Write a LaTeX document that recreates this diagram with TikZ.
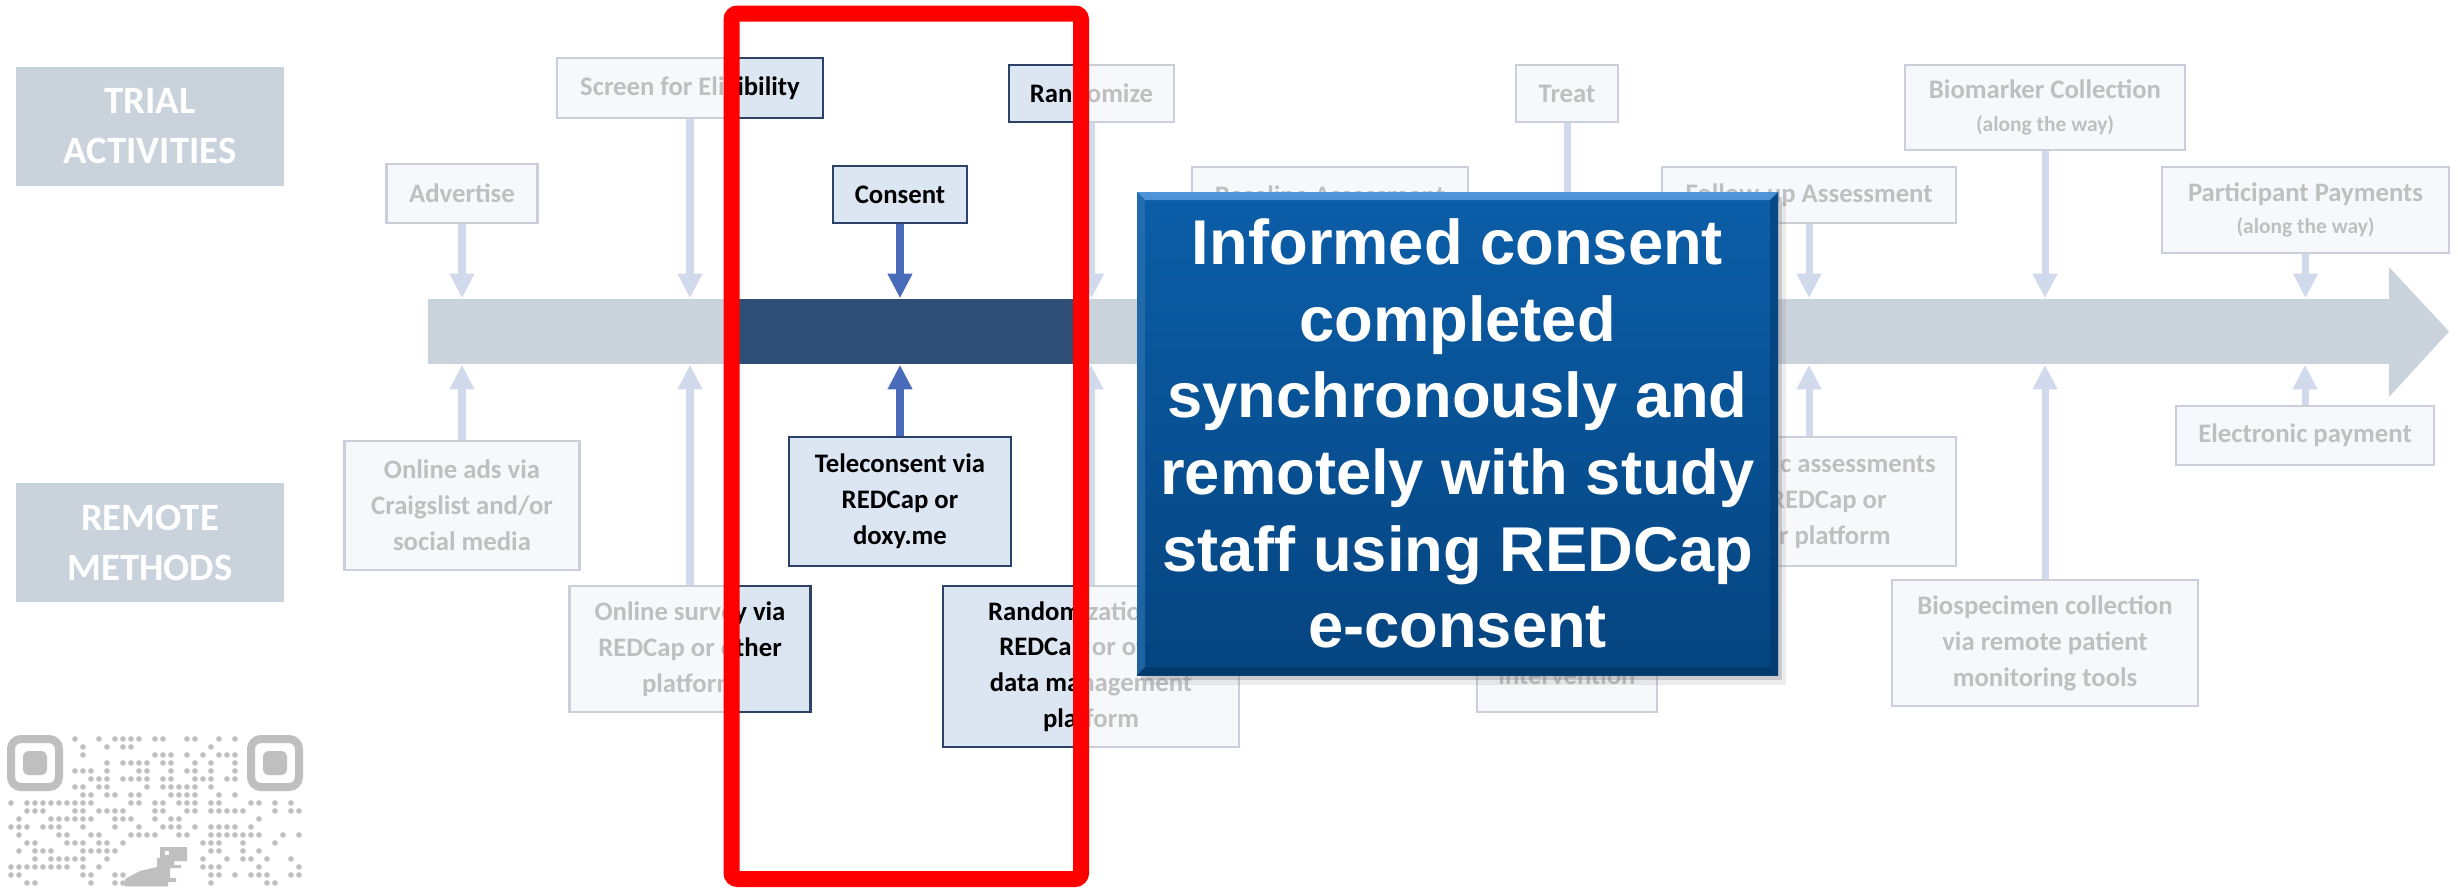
\documentclass[tikz,border=0pt]{standalone}
\usepackage{fontspec}
\setmainfont{Carlito}
\newfontfamily\calloutfont{Liberation Sans}
\usetikzlibrary{arrows.meta,shadows}
\newdimen\pxu \pxu=0.01cm
\definecolor{bandblue}{RGB}{46,78,118}
\definecolor{boxline}{RGB}{44,66,104}
\definecolor{boxfill}{RGB}{220,230,242}
\definecolor{arrowblue}{RGB}{72,108,186}
\definecolor{callouttop}{RGB}{11,94,168}
\definecolor{calloutbot}{RGB}{5,68,128}
\definecolor{bevellight}{RGB}{78,148,215}
\definecolor{framered}{RGB}{255,0,0}

\begin{document}
\begin{tikzpicture}[x=0.01cm, y=-0.01cm,
    tbox/.style={draw=boxline, fill=boxfill, line width=0.8pt, align=center, inner sep=0pt,
      font=\bfseries\fontsize{7.6}{10.2}\selectfont},
    labelbox/.style={fill=bandblue, text=white, align=center, inner sep=0pt,
      minimum width=268\pxu, minimum height=119\pxu, font=\bfseries\fontsize{11}{14.2}\selectfont},
    conn/.style={draw=arrowblue, line width=2pt, -{Triangle[width=6.6pt,length=7pt]}},
    callout/.style={top color=callouttop, bottom color=calloutbot, text=white, align=center,
      inner sep=0pt, font=\calloutfont\bfseries\fontsize{18}{21.8}\selectfont,
      drop shadow={shadow xshift=4\pxu, shadow yshift=-5\pxu, opacity=.3},
      drop shadow={shadow xshift=8\pxu, shadow yshift=-10\pxu, opacity=.15},
      path picture={
        \shade[top color=bevellight, bottom color=callouttop]
          (path picture bounding box.north west) -- (path picture bounding box.north east)
          -- ([shift={(-8\pxu,-8\pxu)}]path picture bounding box.north east)
          -- ([shift={(8\pxu,-8\pxu)}]path picture bounding box.north west) -- cycle;
        \fill[callouttop!85!white, opacity=.6]
          (path picture bounding box.north west) -- ([shift={(8\pxu,-8\pxu)}]path picture bounding box.north west)
          -- ([shift={(8\pxu,8\pxu)}]path picture bounding box.south west) -- (path picture bounding box.south west) -- cycle;
        \fill[calloutbot!80!black, opacity=.5]
          (path picture bounding box.north east) -- ([shift={(-8\pxu,-8\pxu)}]path picture bounding box.north east)
          -- ([shift={(-8\pxu,8\pxu)}]path picture bounding box.south east) -- (path picture bounding box.south east) -- cycle;
        \fill[calloutbot!70!black, opacity=.5]
          (path picture bounding box.south west) -- ([shift={(8\pxu,8\pxu)}]path picture bounding box.south west)
          -- ([shift={(-8\pxu,8\pxu)}]path picture bounding box.south east) -- (path picture bounding box.south east) -- cycle;
      }}
  ]
  \fill[white] (0,0) rectangle (2458,886);

  % row labels
  \node[labelbox] (trial) at (150,126.5) {TRIAL\\ACTIVITIES};
  \node[labelbox] (remote) at (150,542.5) {REMOTE\\METHODS};

  % qr code
  \begin{scope}[black]
    \foreach \qx in {7,247} {
      \draw[line width=8\pxu, rounded corners=10\pxu] (\qx+4,739) rectangle (\qx+52,787);
      \fill[rounded corners=6\pxu] (\qx+16,751) rectangle (\qx+40,775);
    }
    \pgfmathsetseed{2718}
    \foreach \i in {0,...,36} {
      \foreach \j in {0,...,18} {
        \pgfmathsetmacro\qrdot{rnd}
        \pgfmathtruncatemacro\qrshow{(\qrdot<0.45)*(1-(\i<8)*(\j<8))*(1-(\i>28)*(\j<8))*(1-(\i>14)*(\i<24)*(\j>12))}
        \ifnum\qrshow=1 \fill (11+8*\i,739+8*\j) circle[radius=2.8\pxu]; \fi
      }
    }
    \fill (160,847) -- (187,847) -- (187,861) -- (174,861) -- (174,865) -- (181,865) -- (181,868)
      -- (170,868) -- (170,878) -- (176,878) -- (176,882) -- (168,882) -- (168,886) -- (125,886)
      -- (125,879) -- (140,871) -- (157,867) -- (157,858) -- (160,858) -- cycle;
    \fill[white] (165,851) rectangle (169,855);
  \end{scope}

  % timeline
  \node[fill=bandblue, inner sep=0pt, minimum width=1962\pxu, minimum height=65\pxu] (band) at (1409,331.5) {};
  \fill[bandblue] (2389,267) -- (2449,331.5) -- (2389,397) -- cycle;

  % trial activities
  \node[tbox, minimum width=151\pxu, minimum height=59\pxu] (advertise) at (462,193.5) {Advertise};
  \node[tbox, minimum width=266\pxu, minimum height=60\pxu] (screen) at (690,88) {Screen for Eligibility};
  \node[tbox, minimum width=134\pxu, minimum height=57\pxu] (consent) at (900,194.5) {Consent};
  \node[tbox, minimum width=165\pxu, minimum height=57\pxu] (randomize) at (1091.5,93.5) {Randomize};
  \node[tbox, minimum width=276\pxu, minimum height=56\pxu] (baseline) at (1330,195) {Baseline Assessment};
  \node[tbox, minimum width=102\pxu, minimum height=57\pxu] (treat) at (1567,93.5) {Treat};
  \node[tbox, minimum width=294\pxu, minimum height=56\pxu] (followup) at (1809,195) {Follow-up Assessment};
  \node[tbox, minimum width=280\pxu, minimum height=85\pxu] (biomarker) at (2045,107.5)
    {Biomarker Collection\\[-1pt]{\fontsize{6.1}{8}\selectfont (along the way)}};
  \node[tbox, minimum width=287\pxu, minimum height=86\pxu] (payments) at (2305.5,210)
    {Participant Payments\\[-1pt]{\fontsize{6.1}{8}\selectfont (along the way)}};

  % remote methods
  \node[tbox, minimum width=235\pxu, minimum height=129\pxu] (onlineads) at (462,505.5) {Online ads via\\Craigslist and/or\\social media};
  \node[tbox, minimum width=241\pxu, minimum height=126\pxu] (survey) at (690,649) {Online survey via\\REDCap or other\\platform};
  \node[tbox, minimum width=222\pxu, minimum height=129\pxu] (teleconsent) at (900,501.5) {Teleconsent via\\REDCap or\\doxy.me};
  \node[tbox, minimum width=296\pxu, minimum height=161\pxu] (randomization) at (1091,666.5)
    {Randomization via\\REDCap or other\\data management\\platform};
  \node[tbox, minimum width=180\pxu, minimum height=126\pxu] (intervention) at (1567,649) {\mbox{}\\\mbox{}\\intervention};
  \node[tbox, minimum width=294\pxu, minimum height=129\pxu] (eassess) at (1809,501.5) {Electronic assessments\\via REDCap or\\other platform};
  \node[tbox, minimum width=306\pxu, minimum height=126\pxu] (biospecimen) at (2045,643) {Biospecimen collection\\via remote patient\\monitoring tools};
  \node[tbox, minimum width=258\pxu, minimum height=59\pxu] (epayment) at (2305,435.5) {Electronic payment};

  % arrows into the timeline
  \foreach \n in {advertise,screen,consent,randomize,baseline,treat,followup,biomarker,payments}
    \draw[conn] (\n.south) -- (\n.south |- band.north);
  \foreach \n in {onlineads,survey,teleconsent,randomization,intervention,eassess,biospecimen,epayment}
    \draw[conn] (\n.north) -- (\n.north |- band.south);

  % fade all but the highlighted step
  \fill[white, fill opacity=.75, even odd rule] (0,0) rectangle (2458,886) (731.5,13.5) rectangle (1081,879);
  \draw[framered, line width=16\pxu, rounded corners=6\pxu] (731.5,13.5) rectangle (1081,879);

  \node[callout, minimum width=641\pxu, minimum height=483\pxu] (note) at (1457.5,433.5)
    {Informed consent\\completed\\synchronously and\\remotely with study\\staff using REDCap\\e-consent};
\end{tikzpicture}
\end{document}
